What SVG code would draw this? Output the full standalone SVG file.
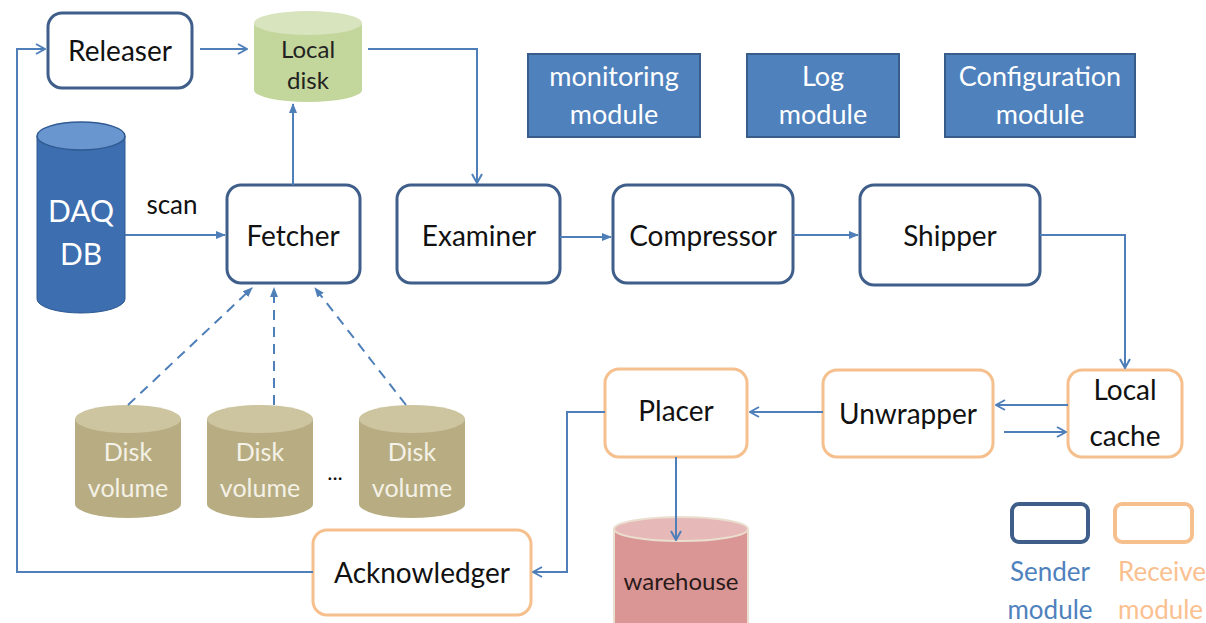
<svg xmlns="http://www.w3.org/2000/svg" width="1206" height="623" viewBox="0 0 1206 623">
<style>
text{font-family:Lato,"Open Sans","Liberation Sans",sans-serif;text-anchor:middle;}
.snd{fill:#fff;stroke:#3f5f8a;stroke-width:3;}
.rcv{fill:#fff;stroke:#f6c08e;stroke-width:3;}
.lbl{font-size:28px;fill:#111;}
.mod{fill:#4f81bd;stroke:#385d8a;stroke-width:2;}
.modt{font-size:27px;fill:#fff;}
.c{fill:none;stroke:#4f7fb8;stroke-width:2;}
.d{fill:none;stroke:#4f7fb8;stroke-width:2;stroke-dasharray:10,7;}
.dv{fill:#b8ad82;}
.dvt{fill:#cdc4a0;}
.dvx{font-size:25px;fill:#f4f1e6;}
</style>
<defs>
<marker id="open" viewBox="0 0 12 12" refX="11" refY="6" markerWidth="12" markerHeight="12" markerUnits="userSpaceOnUse" orient="auto">
<path d="M2,1 L11,6 L2,11" fill="none" stroke="#4f7fb8" stroke-width="2"/>
</marker>
<marker id="fill" viewBox="0 0 10 10" refX="9" refY="5" markerWidth="10" markerHeight="10" markerUnits="userSpaceOnUse" orient="auto">
<path d="M0,1 L10,5 L0,9 Z" fill="#4f7fb8"/>
</marker>
</defs>

<g id="releaser"><rect class="snd" x="48" y="13" width="144" height="75" rx="14"/><text class="lbl" x="120" y="61">Releaser</text></g>

<g id="local-disk">
<path d="M254,23 V90 A54,12 0 0 0 362,90 V23 Z" fill="#c3d69b"/>
<ellipse cx="308" cy="23" rx="54" ry="12" fill="#d7e4bd"/>
<text x="308" y="58" font-size="24" fill="#222">Local</text>
<text x="308" y="89" font-size="24" fill="#222">disk</text>
</g>

<g id="monitoring-module"><rect class="mod" x="528" y="54" width="172" height="83"/><text class="modt" x="614" y="86">monitoring</text><text class="modt" x="614" y="124">module</text></g>
<g id="log-module"><rect class="mod" x="747" y="54" width="152" height="83"/><text class="modt" x="823" y="86">Log</text><text class="modt" x="823" y="124">module</text></g>
<g id="configuration-module"><rect class="mod" x="945" y="54" width="190" height="83"/><text class="modt" x="1040" y="86">Configuration</text><text class="modt" x="1040" y="124">module</text></g>

<g id="daq-db">
<path d="M37,136 V299 A44,14 0 0 0 125,299 V136 Z" fill="#3c6eb0" stroke="#2f5a92" stroke-width="1"/>
<ellipse cx="81" cy="136" rx="44" ry="14" fill="#6a96d0" stroke="#2f5a92" stroke-width="1.5"/>
<text x="81" y="222" font-size="30" fill="#fff">DAQ</text>
<text x="81" y="265" font-size="30" fill="#fff">DB</text>
</g>

<text x="172" y="214" font-size="26" fill="#111">scan</text>

<g id="fetcher"><rect class="snd" x="227" y="185" width="133" height="98" rx="14"/><text class="lbl" x="293" y="246">Fetcher</text></g>
<g id="examiner"><rect class="snd" x="397" y="185" width="163" height="98" rx="14"/><text class="lbl" x="479" y="246">Examiner</text></g>
<g id="compressor"><rect class="snd" x="613" y="185" width="180" height="98" rx="14"/><text class="lbl" x="703" y="246">Compressor</text></g>
<g id="shipper"><rect class="snd" x="860" y="185" width="180" height="100" rx="14"/><text class="lbl" x="950" y="246">Shipper</text></g>

<g id="local-cache"><rect class="rcv" x="1068" y="370" width="114" height="87" rx="14"/><text class="lbl" x="1125" y="400">Local</text><text class="lbl" x="1125" y="446">cache</text></g>
<g id="unwrapper"><rect class="rcv" x="823" y="370" width="170" height="87" rx="14"/><text class="lbl" x="908" y="424">Unwrapper</text></g>
<g id="placer"><rect class="rcv" x="605" y="369" width="142" height="88" rx="14"/><text class="lbl" x="676" y="421">Placer</text></g>
<g id="acknowledger"><rect class="rcv" x="313" y="530" width="218" height="85" rx="14"/><text class="lbl" x="422" y="583">Acknowledger</text></g>

<g id="disk-volume-1">
<path class="dv" d="M75,419 V504 A53,14 0 0 0 181,504 V419 Z"/>
<ellipse class="dvt" cx="128" cy="419" rx="53" ry="14"/>
<text class="dvx" x="128" y="461">Disk</text>
<text class="dvx" x="128" y="497">volume</text>
</g>
<g id="disk-volume-2">
<path class="dv" d="M207,419 V504 A53,14 0 0 0 313,504 V419 Z"/>
<ellipse class="dvt" cx="260" cy="419" rx="53" ry="14"/>
<text class="dvx" x="260" y="461">Disk</text>
<text class="dvx" x="260" y="497">volume</text>
</g>
<text x="335" y="480" font-size="22" fill="#111">...</text>
<g id="disk-volume-3">
<path class="dv" d="M359,419 V504 A53,14 0 0 0 465,504 V419 Z"/>
<ellipse class="dvt" cx="412" cy="419" rx="53" ry="14"/>
<text class="dvx" x="412" y="461">Disk</text>
<text class="dvx" x="412" y="497">volume</text>
</g>

<g id="warehouse">
<path d="M614,529 V640 A67,12 0 0 0 748,640 V529 Z" fill="#d99694" stroke="#eadfcf" stroke-width="2"/>
<ellipse cx="681" cy="529" rx="67" ry="12" fill="#e6b9b8" stroke="#eadfcf" stroke-width="2"/>
<text x="681" y="590" font-size="24" fill="#2a1a1a">warehouse</text>
</g>

<g id="legend-sender"><rect x="1012" y="504" width="76" height="38" rx="7" fill="#fff" stroke="#3f5f8a" stroke-width="4"/><text x="1050" y="581" font-size="26" fill="#4f81bd">Sender</text><text x="1050" y="619" font-size="26" fill="#4f81bd">module</text></g>
<g id="legend-receiver"><rect x="1115" y="504" width="77" height="38" rx="7" fill="#fff" stroke="#f6c08e" stroke-width="4"/><text x="1118" y="581" font-size="26" fill="#fac090" style="text-anchor:start">Receiver</text><text x="1118" y="619" font-size="26" fill="#fac090" style="text-anchor:start">module</text></g>

<g id="connectors">
<path class="c" d="M313,572 H17 V49 H45" marker-end="url(#open)"/>
<path class="c" d="M200,49 H247" marker-end="url(#open)"/>
<path class="c" d="M368,49 H477 V183" marker-end="url(#open)"/>
<path class="c" d="M293,185 V104" marker-end="url(#fill)"/>
<path class="c" d="M125,235 H225" marker-end="url(#fill)"/>
<path class="d" d="M128,405 L252,288" marker-end="url(#fill)"/>
<path class="d" d="M274,405 V288" marker-end="url(#fill)"/>
<path class="d" d="M406,405 L315,288" marker-end="url(#fill)"/>
<path class="c" d="M560,237 H611" marker-end="url(#fill)"/>
<path class="c" d="M793,235 H858" marker-end="url(#fill)"/>
<path class="c" d="M1040,235 H1125 V368" marker-end="url(#open)"/>
<path class="c" d="M1068,405 H996" stroke-width="3" marker-end="url(#open)"/>
<path class="c" d="M1004,432 H1066" stroke-width="1.5" marker-end="url(#open)"/>
<path class="c" d="M823,412 H750" marker-end="url(#open)"/>
<path class="c" d="M676,457 V540" marker-end="url(#open)"/>
<path class="c" d="M605,412 H567 V572 H533" marker-end="url(#open)"/>
</g>
</svg>
